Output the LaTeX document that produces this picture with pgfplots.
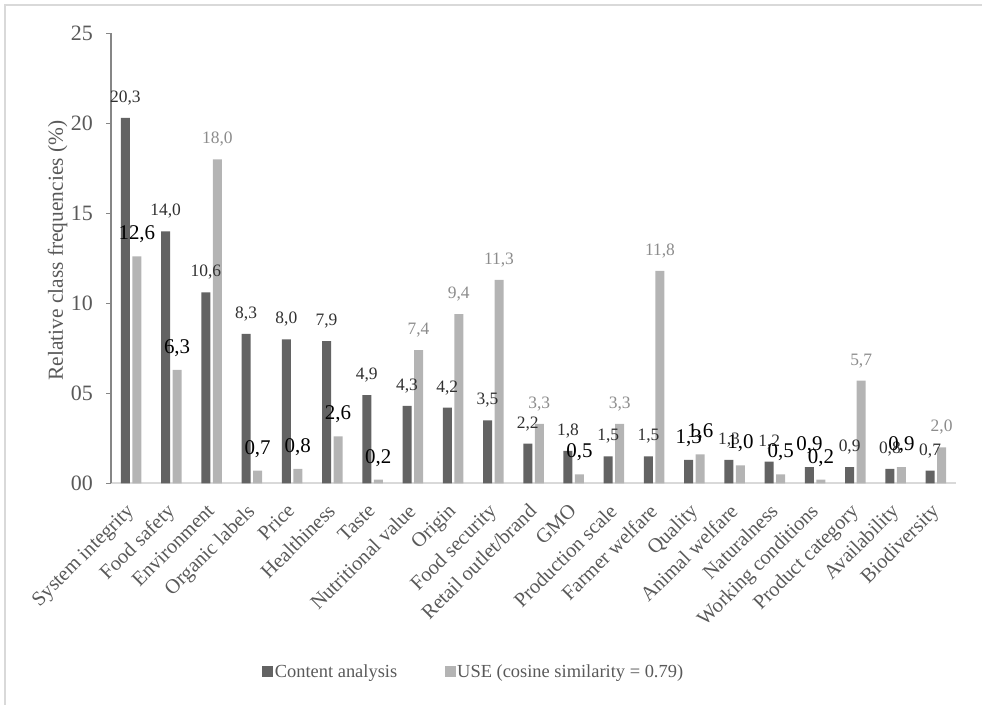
\documentclass[border=0pt]{standalone}
\usepackage{fontspec}
\setmainfont{Liberation Serif}
\usepackage{pgfplots}
\pgfplotsset{compat=1.18}
\definecolor{darkbar}{HTML}{636363}
\definecolor{lightbar}{HTML}{B4B4B4}
\definecolor{txt}{HTML}{595959}
\definecolor{lbl}{HTML}{303030}
\definecolor{glbl}{HTML}{8C8C8C}
\definecolor{framec}{HTML}{D9D9D9}
\definecolor{yaxc}{HTML}{868686}
\begin{document}
\begin{tikzpicture}
\begin{axis}[
  scale only axis, width=845bp, height=450bp,
  anchor=south west, at={(111bp,221.7bp)},
  xmin=-0.5, xmax=20.5, ymin=0, ymax=25,
  axis x line*=bottom, axis y line*=left,
  x axis line style={draw=framec, line width=1.6bp},
  y axis line style={draw=yaxc, line width=1.2bp},
  xtick={0,...,20},
  xticklabels={System integrity, Food safety, Environment, Organic labels, Price, Healthiness, Taste, Nutritional value, Origin, Food security, Retail outlet/brand, GMO, Production scale, Farmer welfare, Quality, Animal welfare, Naturalness, Working conditions, Product category, Availability, Biodiversity},
  ytick={0,5,10,15,20,25}, yticklabels={00,05,10,15,20,25},
  xtick style={draw=none},
  ytick style={draw=yaxc, line width=1bp},
  tick align=outside, major tick length=5bp,
  xticklabel style={xshift=-6bp, yshift=-14bp, rotate=45, anchor=north east, inner sep=0pt, font=\fontsize{20.5}{21}\selectfont, text=txt},
  yticklabel style={anchor=east, inner sep=0pt, font=\fontsize{22}{22}\selectfont, text=txt, xshift=-13bp},
  ylabel={Relative class frequencies (\%)},
  every axis y label/.append style={at={(ticklabel cs:0.517)}, font=\fontsize{21.5}{22}\selectfont, text=txt},
  clip=false,
  legend style={at={(axis description cs:0.4290,-0.4187)}, anchor=center, draw=none, fill=none, font=\fontsize{18.5}{20}\selectfont, text=txt, legend columns=2, nodes={inner xsep=1.5bp}, /tikz/every even column/.append style={column sep=46bp}},
  legend image code/.code={\fill[#1,draw=none] (0bp,-5.5bp) rectangle (11bp,5.5bp);},
  /pgf/number format/fixed, /pgf/number format/fixed zerofill, /pgf/number format/precision=1, /pgf/number format/use comma, /pgf/number format/assume math mode=true,
]
\addplot[ybar, bar width=9bp, bar shift=-5.75bp, fill=darkbar, draw=none] coordinates {
(0,20.3) (1,14.0) (2,10.6) (3,8.3) (4,8.0) (5,7.9) (6,4.9) (7,4.3) (8,4.2) (9,3.5) (10,2.2) (11,1.8) (12,1.5) (13,1.5) (14,1.3) (15,1.3) (16,1.2) (17,0.9) (18,0.9) (19,0.8) (20,0.7)};
\addlegendentry{Content analysis}
\addplot[ybar, bar width=9bp, bar shift=5.75bp, fill=lightbar, draw=none] coordinates {
(0,12.6) (1,6.3) (2,18.0) (3,0.7) (4,0.8) (5,2.6) (6,0.2) (7,7.4) (8,9.4) (9,11.3) (10,3.3) (11,0.5) (12,3.3) (13,11.8) (14,1.6) (15,1.0) (16,0.5) (17,0.2) (18,5.7) (19,0.9) (20,2.0)};
\addlegendentry{USE (cosine similarity = 0.79)}
% content analysis labels, small
\addplot[draw=none, mark=none, forget plot, nodes near coords, point meta=y,
  every node near coord/.append style={anchor=base, xshift=-5.75bp, yshift=15.5bp, font=\fontsize{17.5}{18}\selectfont, text=lbl}] coordinates {
(0,20.3) (1,14.0) (2,10.6) (3,8.3) (4,8.0) (5,7.9) (6,4.9) (7,4.3) (8,4.2) (9,3.5) (10,2.2) (11,1.8) (12,1.5) (13,1.5) (15,1.3) (16,1.2) (18,0.9) (19,0.8) (20,0.7)};
% content analysis labels, large
\addplot[draw=none, mark=none, forget plot, nodes near coords, point meta=y,
  every node near coord/.append style={anchor=base, xshift=-5.75bp, yshift=16.5bp, font=\fontsize{21}{22}\selectfont, text=black}] coordinates {
(14,1.3) (17,0.9)};
% USE labels, grey
\addplot[draw=none, mark=none, forget plot, nodes near coords, point meta=y,
  every node near coord/.append style={anchor=base, xshift=5.75bp, yshift=15.5bp, font=\fontsize{17.5}{18}\selectfont, text=glbl}] coordinates {
(2,18.0) (7,7.4) (8,9.4) (9,11.3) (10,3.3) (12,3.3) (13,11.8) (18,5.7) (20,2.0)};
% USE labels, large black
\addplot[draw=none, mark=none, forget plot, nodes near coords, point meta=y,
  every node near coord/.append style={anchor=base, xshift=5.75bp, yshift=16.5bp, font=\fontsize{21}{22}\selectfont, text=black}] coordinates {
(0,12.6) (1,6.3) (3,0.7) (4,0.8) (5,2.6) (6,0.2) (11,0.5) (14,1.6) (15,1.0) (16,0.5) (17,0.2) (19,0.9)};
\end{axis}
\draw[framec, line width=1.5bp] (5bp,-20bp) -- (5bp,700bp) -- (1000bp,700bp);
\pgfresetboundingbox
\useasboundingbox (0,0) rectangle (982bp,705bp);
\end{tikzpicture}
\end{document}
